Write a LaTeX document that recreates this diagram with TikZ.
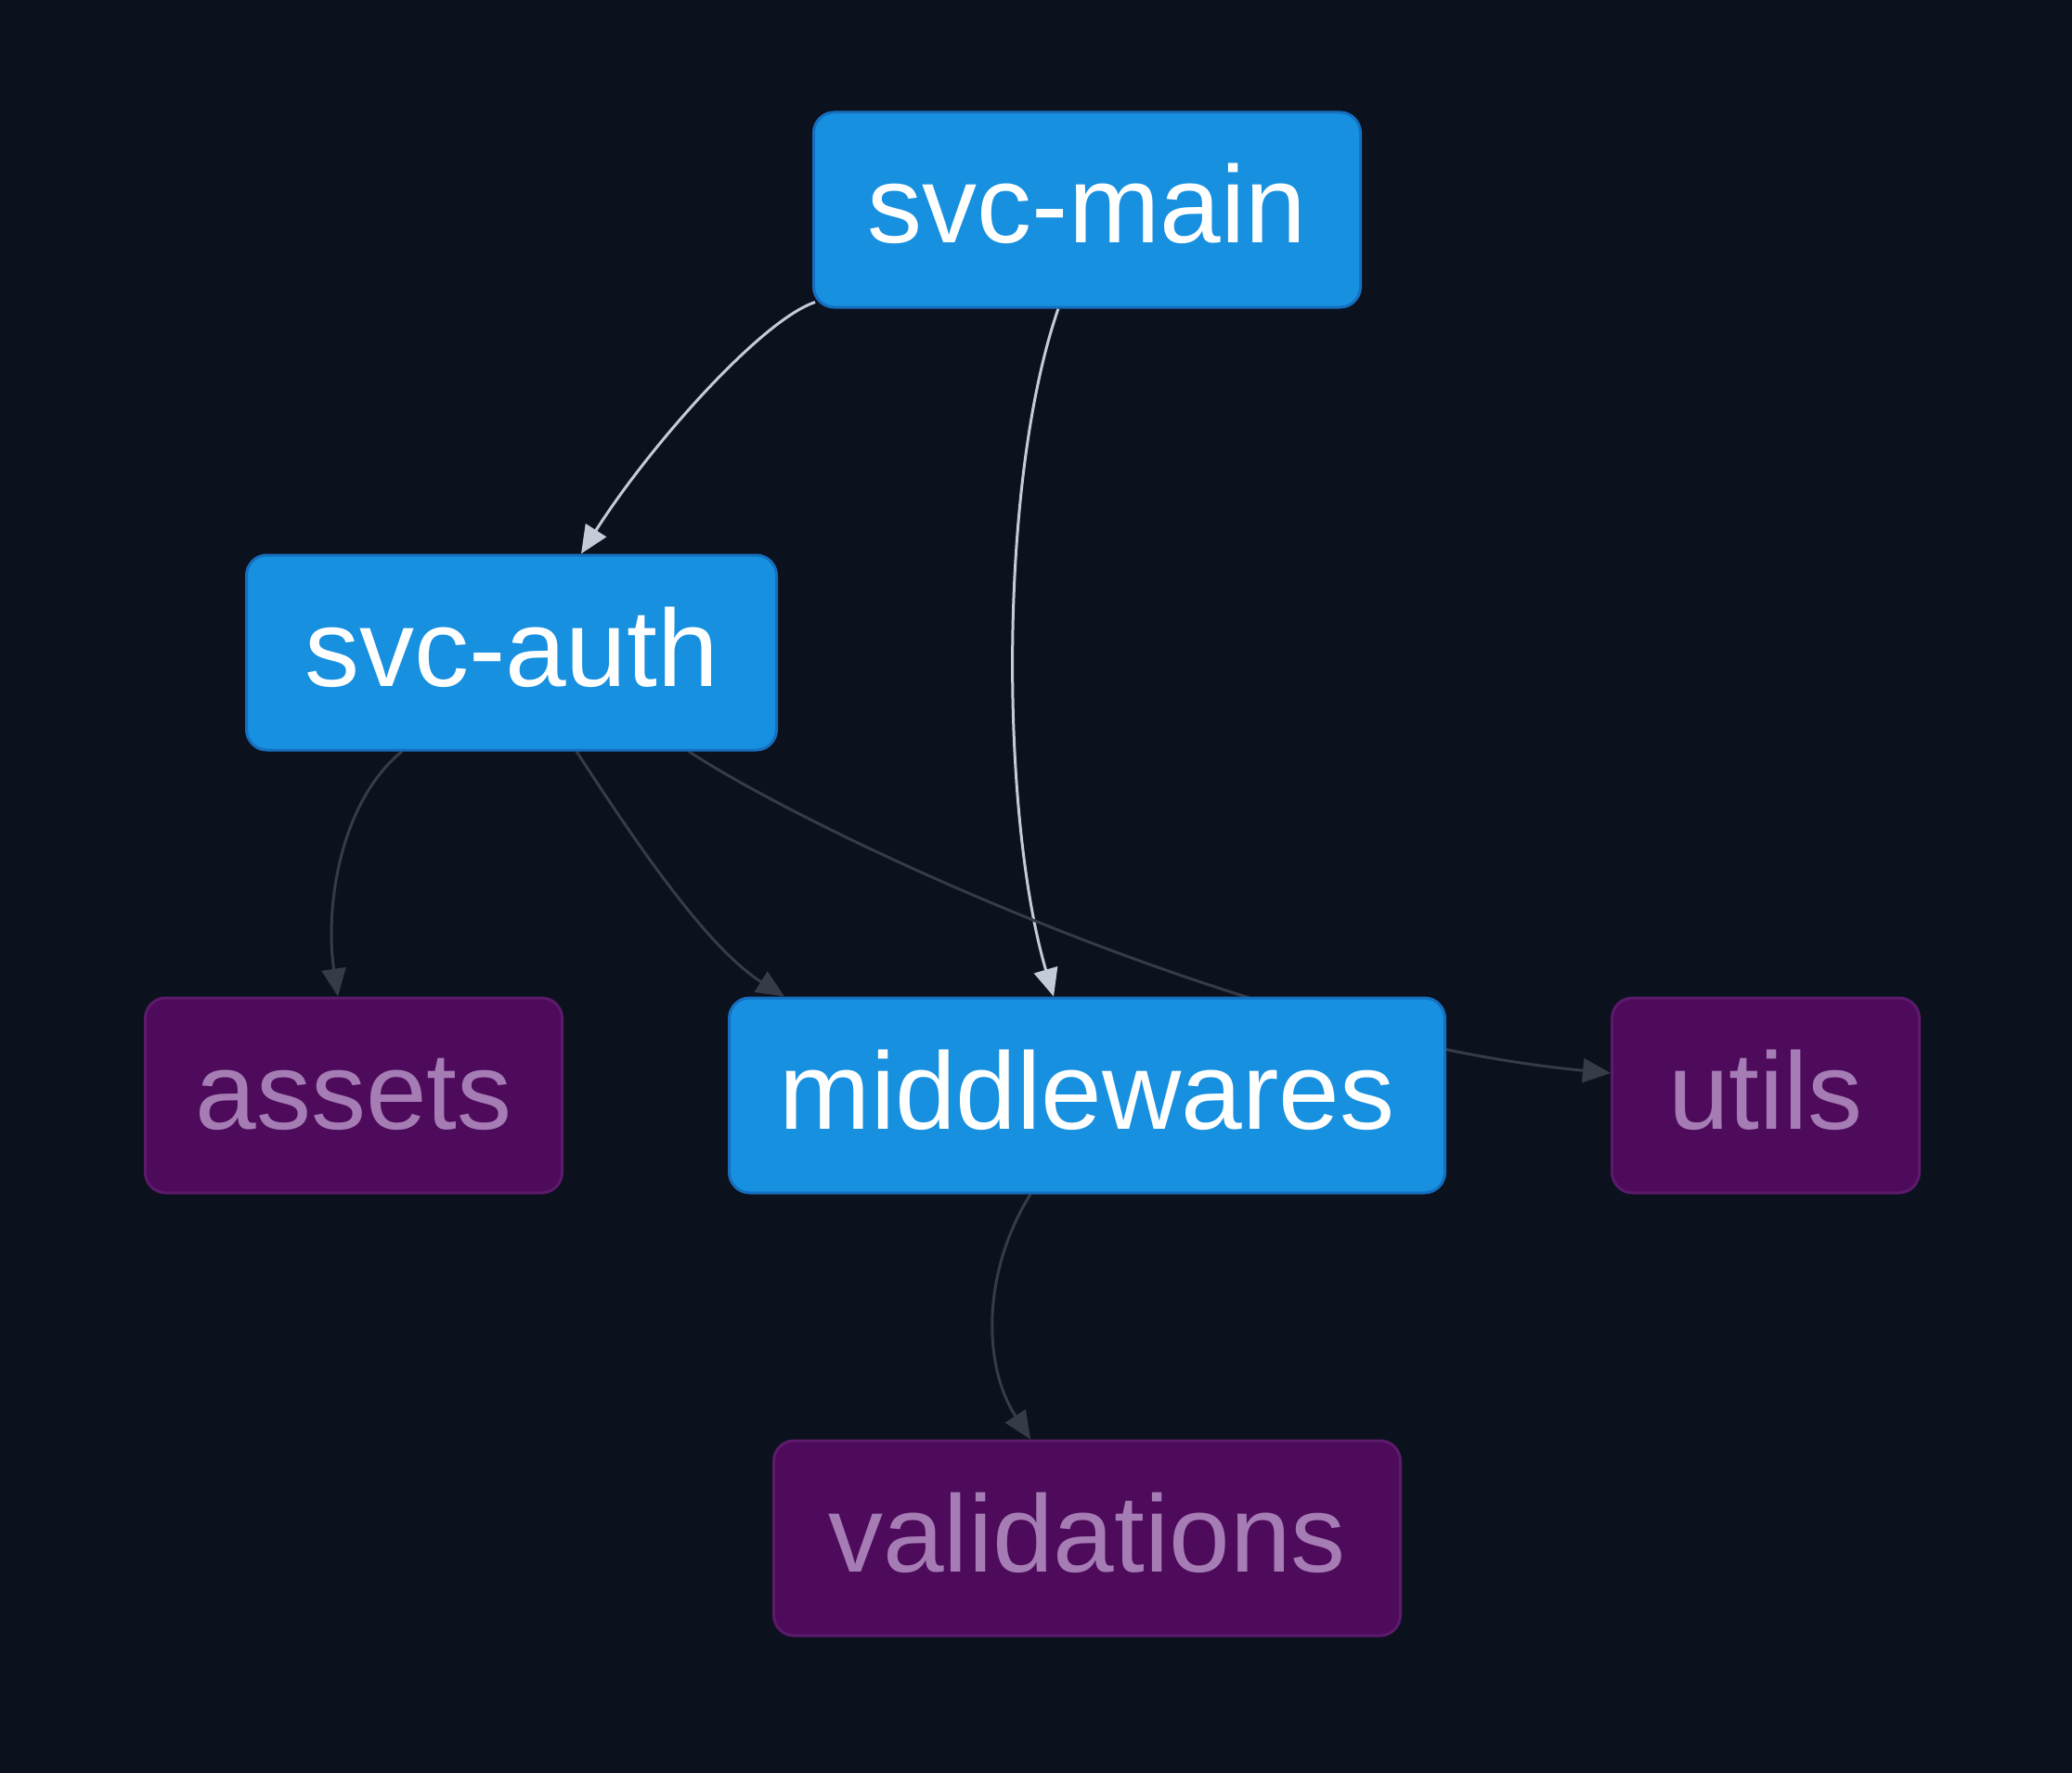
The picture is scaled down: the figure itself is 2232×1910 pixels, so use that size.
\documentclass[tikz,border=0pt]{standalone}
\usepackage{fontspec}
\setmainfont{Liberation Sans}
\usetikzlibrary{arrows.meta}
\definecolor{bgc}{HTML}{0C111E}
\definecolor{bluefill}{HTML}{1890E0}
\definecolor{blueline}{HTML}{166EBE}
\definecolor{purpfill}{HTML}{4E0B5C}
\definecolor{purpline}{HTML}{5C1A6C}
\definecolor{purptext}{HTML}{A57DB4}
\definecolor{edgelight}{HTML}{C3CBD8}
\definecolor{edgedark}{HTML}{363B48}
\pgfdeclarelayer{bg}
\pgfdeclarelayer{edges}
\pgfsetlayers{bg,edges,main}
\tikzset{
  box/.style={rectangle, rounded corners=22pt, line width=3pt, inner sep=0pt,
    minimum height=210pt, text height=86pt, text depth=14pt,
    font=\fontsize{118}{140}\selectfont},
  hot/.style={box, fill=bluefill, draw=blueline, text=white},
  cold/.style={box, fill=purpfill, draw=purpline, text=purptext},
  lightedge/.style={draw=edgelight, line width=3pt, -{Triangle[length=30pt,width=26pt]}},
  darkedge/.style={draw=edgedark, line width=3pt, -{Triangle[length=30pt,width=26pt]}},
}
\begin{document}
\begin{tikzpicture}[x=1pt,y=-1pt]
\begin{pgfonlayer}{bg}
\fill[bgc] (0,0) rectangle (2232,1910);
\end{pgfonlayer}
\useasboundingbox (0,0) rectangle (2232,1910);
\node[hot, minimum width=589pt] (main) at (1171,226) {svc-main};
\node[hot, minimum width=571pt] (auth) at (551,703) {svc-auth};
\node[cold, minimum width=449pt] (assets) at (381,1180) {assets};
\node[hot, minimum width=771pt] (mid) at (1171,1180) {middlewares};
\node[cold, minimum width=331pt] (utils) at (1902,1180) {utils};
\node[cold, minimum width=675pt] (val) at (1171,1657) {validations};
\begin{pgfonlayer}{edges}
\draw[lightedge] ([xshift=3pt,yshift=7pt]main.south west) .. controls (820,345) and (700,480) .. ([xshift=75pt]auth.north);
\draw[lightedge] ([xshift=-31pt]main.south) .. controls (1075,520) and (1078,880) .. ([xshift=-36pt]mid.north);
\draw[darkedge] ([xshift=-118pt]auth.south) .. controls (365,865) and (350,980) .. ([xshift=-17pt]assets.north);
\draw[darkedge] ([xshift=70pt]auth.south) .. controls (680,900) and (760,1020) .. ([xshift=-326pt]mid.north);
\draw[darkedge] ([xshift=191pt]auth.south) .. controls (880,900) and (1350,1120) .. ([yshift=24pt]utils.west);
\draw[darkedge] ([xshift=-61pt]mid.south) .. controls (1058,1370) and (1058,1470) .. ([xshift=-61pt]val.north);
\end{pgfonlayer}
\end{tikzpicture}
\end{document}
